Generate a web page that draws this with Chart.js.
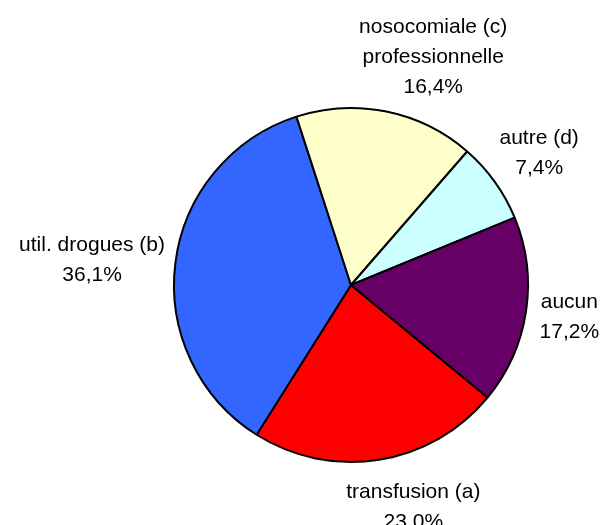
<!DOCTYPE html>
<html>
<head>
<meta charset="utf-8">
<script src="https://cdn.jsdelivr.net/npm/chart.js@4"></script>
<style>
  html, body { margin: 0; padding: 0; background: #fff; }
  #wrap { width: 603px; height: 525px; }
</style>
</head>
<body>
<div id="wrap"><canvas id="pieChart"></canvas></div>
<script>
const categories = ['transfusion (a)', 'util. drogues (b)', 'nosocomiale (c)\nprofessionnelle', 'autre (d)', 'aucun'];
const percents = [23.0, 36.1, 16.4, 7.4, 17.2];
const percentLabels = ['23,0%', '36,1%', '16,4%', '7,4%', '17,2%'];
const colors = ['#FF0000', '#3366FF', '#FFFFCC', '#CCFFFF', '#660066'];

// small per-label nudges to mimic where Excel put the texts
const labelNudge = [[22, 8], [-1, 2], [30, 0], [4, -5], [4, 0]];

const outsideLabels = {
  id: 'outsideLabels',
  afterDatasetsDraw(chart) {
    const ctx = chart.ctx;
    const arcs = chart.getDatasetMeta(0).data;
    const lineH = 30;
    const gap = 10;
    ctx.save();
    ctx.font = '21px "Liberation Sans", Arial, sans-serif';
    ctx.fillStyle = '#000';
    ctx.textAlign = 'center';
    ctx.textBaseline = 'middle';
    arcs.forEach((arc, i) => {
      const { x, y, startAngle, endAngle, outerRadius } = arc.getProps(['x', 'y', 'startAngle', 'endAngle', 'outerRadius'], true);
      const mid = (startAngle + endAngle) / 2;
      const dx = Math.cos(mid), dy = Math.sin(mid);
      const lines = categories[i].split('\n').concat([percentLabels[i]]);
      const w = Math.max(...lines.map(l => ctx.measureText(l).width));
      const h = lines.length * lineH;
      const cx = x + dx * (outerRadius + gap + w / 2) + labelNudge[i][0];
      const cy = y + dy * (outerRadius + gap + h / 2) + labelNudge[i][1];
      lines.forEach((l, k) => {
        ctx.fillText(l, cx, cy - h / 2 + lineH / 2 + k * lineH);
      });
    });
    ctx.restore();
  }
};

new Chart(document.getElementById('pieChart'), {
  type: 'pie',
  data: {
    labels: categories,
    datasets: [{
      data: percents,
      backgroundColor: colors,
      borderColor: '#000',
      borderWidth: 2
    }]
  },
  options: {
    responsive: true,
    maintainAspectRatio: false,
    animation: false,
    rotation: 129.5,
    layout: { padding: { left: 173, right: 74, top: 107, bottom: 62 } },
    plugins: {
      legend: { display: false },
      tooltip: { enabled: false }
    }
  },
  plugins: [outsideLabels]
});
</script>
</body>
</html>
